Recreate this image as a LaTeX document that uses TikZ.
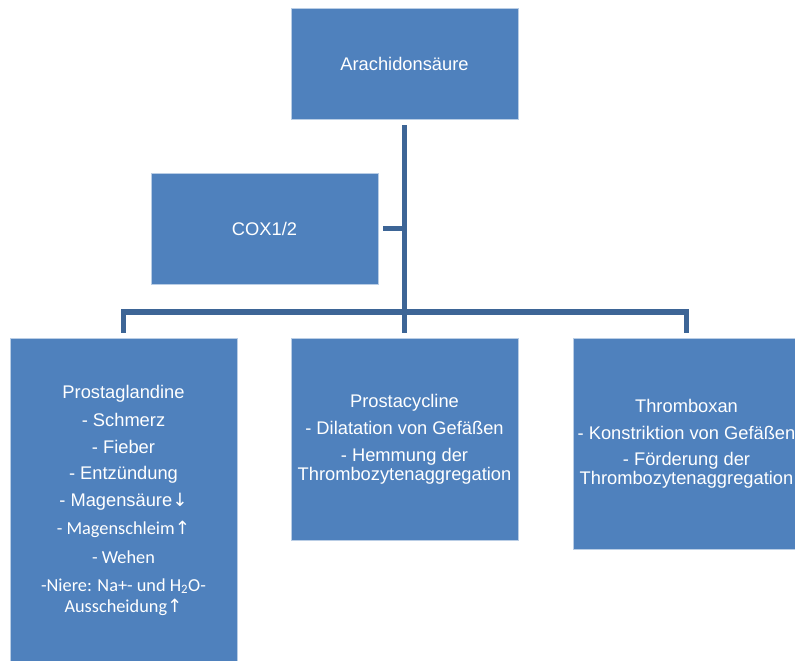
\documentclass[tikz,border=0pt]{standalone}
\usepackage{fontspec}
\setmainfont{Liberation Sans}
\newfontfamily\calfont{Carlito}
\newfontfamily\arrfont{DejaVu Sans}
\newcommand\myup{{\arrfont\fontsize{18.3}{18.5}\selectfont ↑}}
\newcommand\mydown{{\arrfont\fontsize{18.3}{18.5}\selectfont ↓}}
\definecolor{boxblue}{HTML}{4F81BD}
\definecolor{boxedge}{HTML}{B9CDE5}
\definecolor{connblue}{HTML}{3D6596}
\tikzset{
  box/.style={rectangle, fill=boxblue, draw=boxedge, line width=0.8pt,
    minimum width=227pt, text=white, align=center, inner sep=0pt,
    font=\fontsize{18.3}{18.5}\selectfont},
  conn/.style={draw=connblue, line width=5.5pt, line join=miter}
}
\begin{document}
\begin{tikzpicture}[x=1pt,y=1pt]
\useasboundingbox (0,0) rectangle (795,661);
\begin{scope}
\clip (0,0) rectangle (795,661);
\node[box, minimum height=111pt] (ara) at (404.5,597.5) {Arachidonsäure};
\node[box, minimum height=111pt] (cox) at (264.5,432.5) {COX1/2};
\node[box, minimum height=325pt] (pg) at (123.5,160.5) {Prostaglandine\\[9.5pt]
- Schmerz\\[8.2pt]
- Fieber\\[8.2pt]
- Entzündung\\[8.2pt]
- Magensäure\mydown\\[9.8pt]
{\calfont - Magenschleim\myup}\\[10.5pt]
{\calfont - Wehen}\\[8.9pt]
{\calfont -Niere: Na+- und H\textsubscript{2}O-}\\[3pt]
{\calfont Ausscheidung\myup}};
\node[box, minimum height=202pt] (pc) at (404.5,222) {Prostacycline\\[8.5pt]
- Dilatation von Gefäßen\\[8.8pt]
- Hemmung der\\
Thrombozytenaggregation};
\node[box, minimum height=211pt] (tx) at (686.5,217.5) {Thromboxan\\[8.5pt]
- Konstriktion von Gefäßen\\[8.3pt]
- Förderung der\\
Thrombozytenaggregation};
\coordinate (bar) at (404.5,349);
\draw[conn, shorten <=6pt, shorten >=5pt] (ara.south) -- (pc.north);
\draw[conn] ([yshift=5pt]pg.north) |- (bar) -| ([yshift=5pt]tx.north);
\draw[conn, line width=4.3pt, shorten <=5pt] (cox.east) -- (cox.east -| ara.south);
\end{scope}
\end{tikzpicture}
\end{document}
